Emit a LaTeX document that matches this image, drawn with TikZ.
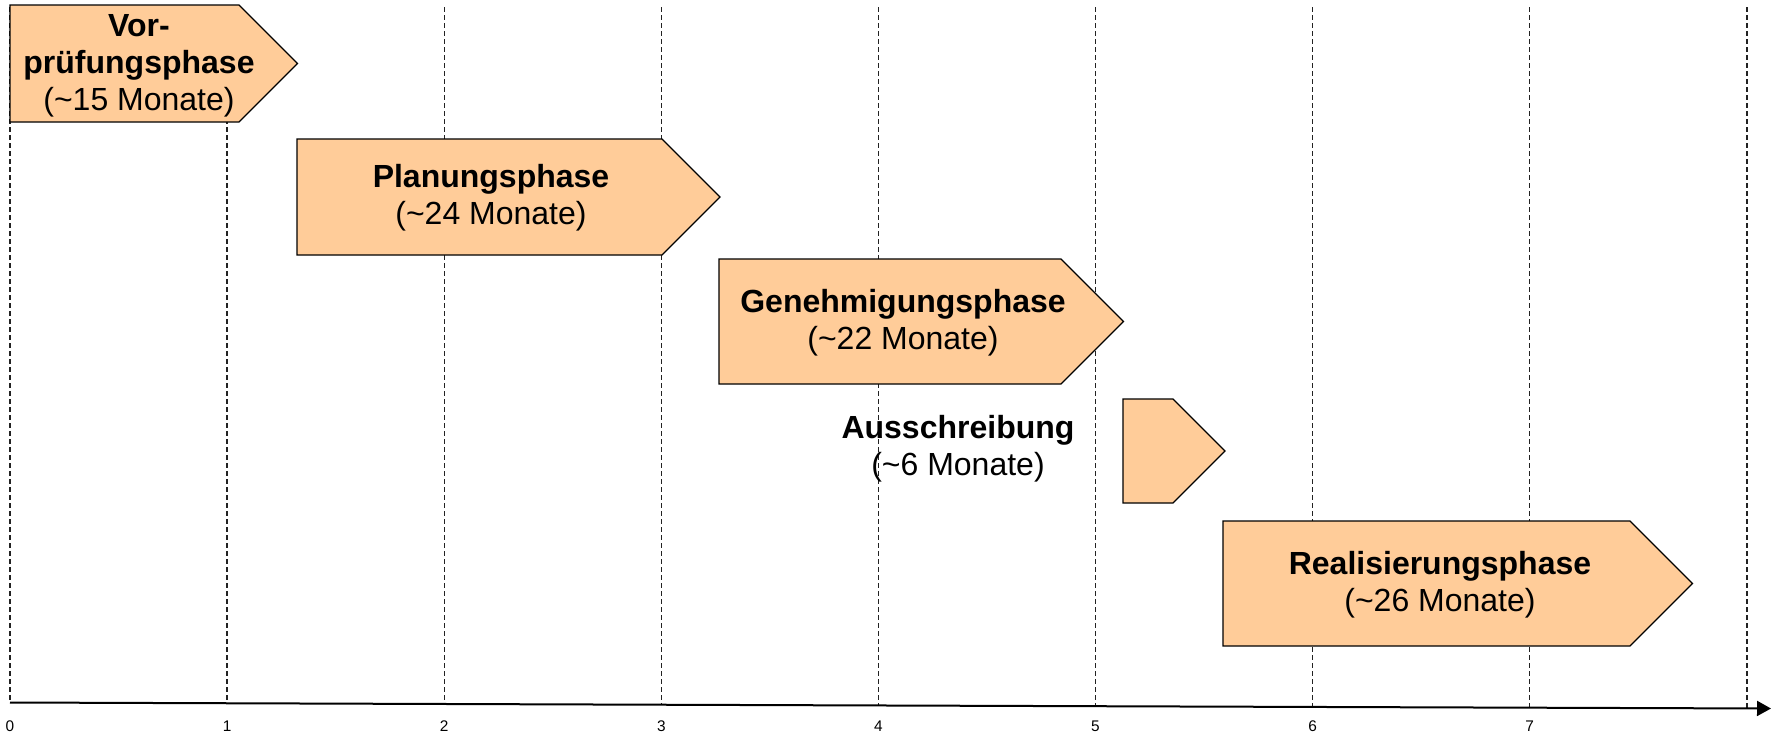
\documentclass[tikz,border=0pt]{standalone}
\usepackage{fontspec}
\setmainfont{Liberation Sans}
\usetikzlibrary{arrows.meta}

\definecolor{couleurbackphas}{HTML}{FFCC99}
\definecolor{couleurtext}{HTML}{000000}
\definecolor{couleurgrille}{HTML}{222222}
% #1 gauche, #2 fin rectangle, #3 haut, #4 bas
\newcommand{\flechephase}[4]{\draw[blocphase] (#1,#3) -- (#2,#3) -- ({#2+(#4-#3)/2},{(#3+#4)/2}) -- (#2,#4) -- (#1,#4) -- cycle;}
\newcommand{\lignegrille}[1]{\draw[grille] ({10+217.1*#1},7) -- ({10+217.1*#1},{702.5+6*217.1*#1/1761});}
\tikzset{
		basic/.style={text=couleurtext, align=center, inner sep=0pt},
		blocphase/.style={draw=black, line width=0.6pt, fill=couleurbackphas},
		titre/.style={basic, font=\fontsize{16}{18.5}\selectfont},
		grille/.style={draw=couleurgrille, line width=0.7pt, dash pattern=on 2.5pt off 1.5pt},
		axe/.style={draw=black, line width=1pt, -{Triangle[length=7pt,width=7.5pt]}},
		graduation/.style={basic, font=\fontsize{7.7}{9}\selectfont}
	}

\begin{document}
\begin{tikzpicture}[x=0.5pt, y=-0.5pt]
		\useasboundingbox (0,0) rectangle (1773,735);
		% grille
		\foreach \x in {0,...,8} {\lignegrille{\x}}
		
		% phases
		\flechephase{10}{239}{5}{122}
		\flechephase{297}{662}{139}{255}
		\flechephase{719}{1061}{259}{384}
		\flechephase{1123}{1173}{399}{503}
		\flechephase{1223}{1630}{521}{646}
		
		\node[titre](vorpruef) at (139,66) {\textbf{Vor-}\\\textbf{prüfungsphase}\\(\textasciitilde15 Monate)};
		\node[titre](planungs) at (491,198) {\textbf{Planungsphase}\\(\textasciitilde24 Monate)};
		\node[titre](genehmig) at (903,323) {\textbf{Genehmigungsphase}\\(\textasciitilde22 Monate)};
		\node[titre](ausschre) at (958,449) {\textbf{Ausschreibung}\\(\textasciitilde6 Monate)};
		\node[titre](realisie) at (1440,585) {\textbf{Realisierungsphase}\\(\textasciitilde26 Monate)};
		
		% axe
		\coordinate (axeorig) at (10,702.5);
		\coordinate (axefin) at (1771,708.5);
		\draw[axe] (axeorig) -- (axefin);
		\foreach \x in {0,...,7} {\node[graduation](grad\x) at ({10+217.1*\x},726) {\x};}
	\end{tikzpicture}
\end{document}
